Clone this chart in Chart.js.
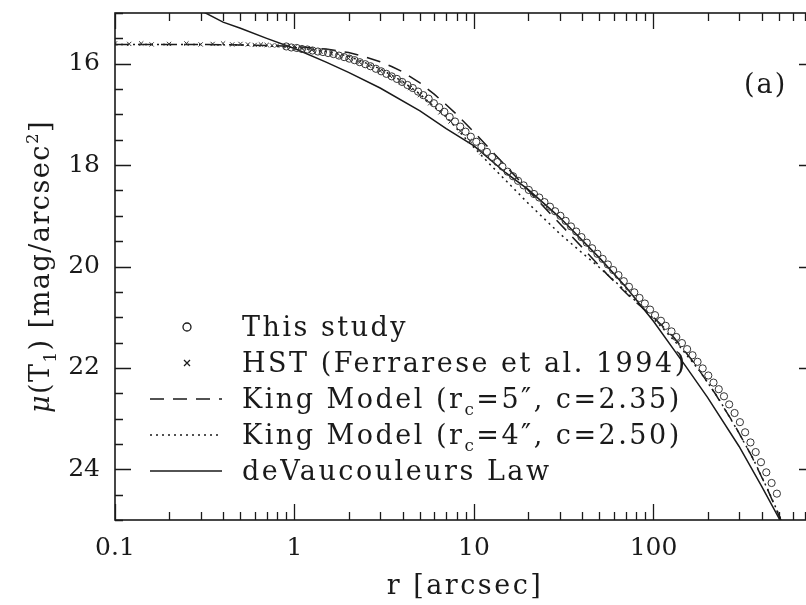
<!DOCTYPE html>
<html>
<head>
<meta charset="utf-8">
<script src="https://cdn.jsdelivr.net/npm/chart.js@4"></script>
<style>
  html, body { margin: 0; padding: 0; background: #fff; overflow: hidden; }
  #wrap { width: 822px; height: 605px; }
</style>
</head>
<body>
<div id="wrap"><canvas id="chart" width="822" height="605"></canvas></div>
<script>
// r in arcsec, mu in mag/arcsec^2
let studyR = [0.90, 0.96, 1.03, 1.10, 1.18, 1.26, 1.35, 1.44, 1.54, 1.65, 1.77, 1.89, 2.02, 2.16, 2.31, 2.48, 2.65, 2.84, 3.04, 3.25,
  3.48, 3.72, 3.98, 4.26, 4.56, 4.88, 5.22, 5.59, 5.98, 6.40, 6.84, 7.32, 7.84, 8.38, 8.97, 9.60, 10.3, 11.0, 11.8, 12.6,
  13.5, 14.4, 15.4, 16.5, 17.6, 18.9, 20.2, 21.6, 23.1, 24.7, 26.5, 28.3, 30.3, 32.4, 34.7, 37.1, 39.7, 42.5, 45.5, 48.7,
  52.1, 55.7, 59.6, 63.8, 68.3, 73.0, 78.2, 83.6, 89.5, 95.7, 102, 110, 117, 126, 134, 144, 154, 165, 176, 188,
  202, 216, 231, 247, 264, 283, 303, 324, 347, 371, 397, 425, 455, 487];
let studyMu = [15.66, 15.68, 15.69, 15.71, 15.72, 15.74, 15.76, 15.77, 15.79, 15.81, 15.84, 15.87, 15.90, 15.93, 15.97, 16.01, 16.05, 16.10, 16.15, 16.20,
  16.25, 16.30, 16.36, 16.42, 16.48, 16.55, 16.62, 16.69, 16.78, 16.86, 16.95, 17.05, 17.14, 17.24, 17.34, 17.44, 17.54, 17.64, 17.74, 17.84,
  17.94, 18.03, 18.13, 18.22, 18.31, 18.40, 18.49, 18.57, 18.64, 18.73, 18.82, 18.91, 19.00, 19.10, 19.21, 19.31, 19.42, 19.53, 19.64, 19.75,
  19.85, 19.96, 20.07, 20.17, 20.29, 20.40, 20.51, 20.62, 20.73, 20.85, 20.96, 21.07, 21.17, 21.28, 21.39, 21.51, 21.63, 21.75, 21.88, 22.01,
  22.15, 22.29, 22.42, 22.56, 22.72, 22.89, 23.07, 23.27, 23.47, 23.66, 23.86, 24.06, 24.27, 24.48];

let hstR = [0.1, 0.12, 0.14, 0.16, 0.2, 0.25, 0.3, 0.35, 0.4, 0.45, 0.5, 0.55, 0.6, 0.65, 0.7, 0.75, 0.8, 0.9, 1.0,
  1.1, 1.25, 1.4, 1.6, 1.8, 2.0, 2.3, 2.6, 3.0, 3.4, 3.9, 4.4, 5.0, 5.7, 6.5, 7.4, 8.4, 9.5, 11];
let hstMu = [15.60, 15.61, 15.60, 15.62, 15.61, 15.60, 15.62, 15.61, 15.60, 15.62, 15.61, 15.62, 15.63, 15.62, 15.63, 15.64, 15.64, 15.66, 15.68,
  15.70, 15.73, 15.76, 15.80, 15.85, 15.90, 15.97, 16.04, 16.14, 16.24, 16.36, 16.48, 16.62, 16.78, 16.96, 17.14, 17.33, 17.52, 17.75];

let king5R = [0.1, 0.3, 0.5, 0.7, 1, 1.5, 2, 2.5, 3, 3.5, 4, 5, 6, 7, 8, 10, 13, 17, 22, 30, 40, 55, 75, 100, 130, 170, 220, 280, 350, 430, 520];
let king5Mu = [15.62, 15.62, 15.63, 15.64, 15.66, 15.71, 15.78, 15.87, 15.96, 16.06, 16.16, 16.38, 16.60, 16.81, 17.00, 17.35, 17.78, 18.22, 18.65, 19.15, 19.62, 20.15, 20.62, 21.00, 21.40, 21.92, 22.50, 23.10, 23.72, 24.38, 25.05];

let king4R = [0.1, 0.3, 0.5, 0.7, 1, 1.5, 2, 3, 4, 5, 6, 7, 9, 12, 15, 20, 25, 30, 40, 50, 65, 85, 110, 140, 180, 230, 290, 360, 440, 530];
let king4Mu = [15.62, 15.62, 15.63, 15.65, 15.68, 15.76, 15.85, 16.10, 16.35, 16.60, 16.85, 17.05, 17.48, 17.95, 18.30, 18.75, 19.08, 19.35, 19.73, 20.02, 20.38, 20.78, 21.18, 21.58, 22.05, 22.60, 23.20, 23.80, 24.45, 25.10];

let devR = [0.3, 0.4, 0.5, 0.7, 1, 1.5, 2, 3, 5, 7, 10, 15, 20, 30, 50, 70, 100, 150, 200, 300, 400, 510];
let devMu = [14.95, 15.18, 15.30, 15.50, 15.70, 15.97, 16.17, 16.48, 16.93, 17.28, 17.62, 18.15, 18.48, 19.03, 19.83, 20.40, 21.08, 21.95, 22.58, 23.55, 24.33, 25.02];

let xTickLabels = [0.1, 1, 10, 100];
let yTickLabels = [16, 18, 20, 22, 24];
let xMinorSteps = [1, 2, 3, 4, 5, 6, 7, 8, 9];
let yMinorStep = 0.5;
let legendLabels = ["This study", "HST (Ferrarese et al. 1994)", "King Model (r_c=5\u2033, c=2.35)", "King Model (r_c=4\u2033, c=2.50)", "deVaucouleurs Law"];
let xTitle = "r [arcsec]";
let panelLabel = "(a)";

const ink = "#1a1a1a";
const serif = "'DejaVu Serif', serif";

function pts(rs, ms) {
  return rs.map((r, i) => ({ x: r, y: ms[i] }));
}

// frame with inward ticks on all four sides
const frameTicks = {
  id: "frameTicks",
  afterDatasetsDraw(chart) {
    const ctx = chart.ctx, a = chart.chartArea;
    const xs = chart.scales.x, ys = chart.scales.y;
    ctx.save();
    ctx.strokeStyle = ink;
    ctx.lineWidth = 1.6;
    ctx.strokeRect(a.left, a.top, a.right - a.left, a.bottom - a.top);
    ctx.lineWidth = 1.3;
    ctx.beginPath();
    for (let d = 0; d < xTickLabels.length + 1; d++) {
      let base = xTickLabels[0] * Math.pow(10, d);
      xMinorSteps.forEach((m) => {
        let v = m * base;
        if (v > xs.max) return;
        let px = Math.round(xs.getPixelForValue(v)) + 0.5;
        let len = m === 1 ? 16 : 8;
        ctx.moveTo(px, a.bottom); ctx.lineTo(px, a.bottom - len);
        ctx.moveTo(px, a.top); ctx.lineTo(px, a.top + len);
      });
    }
    for (let v = ys.min; v <= ys.max + 1e-9; v += yMinorStep) {
      let py = Math.round(ys.getPixelForValue(v)) + 0.5;
      let len = yTickLabels.includes(v) ? 16 : 8;
      ctx.moveTo(a.left, py); ctx.lineTo(a.left + len, py);
      ctx.moveTo(a.right, py); ctx.lineTo(a.right - len, py);
    }
    ctx.stroke();
    ctx.restore();
  },
};

// write text with _x subscripts and ^x superscripts, returns end x
function richText(ctx, text, x, y, size, italicFirst) {
  text.split(/([_^]\w)/).forEach((part, k) => {
    if (!part) return;
    let dy = 0, s = size, str = part;
    if (part[0] === "_" && part.length === 2) { s = size * 0.62; dy = 7; str = part[1]; }
    else if (part[0] === "^" && part.length === 2) { s = size * 0.62; dy = -11; str = part[1]; }
    ctx.font = s + "px " + serif;
    if (italicFirst && k === 0) {
      ctx.font = "italic " + s + "px " + serif;
      ctx.fillText(str[0], x, y + dy);
      x += ctx.measureText(str[0]).width;
      ctx.font = s + "px " + serif;
      str = str.slice(1);
    }
    ctx.fillText(str, x, y + dy);
    x += ctx.measureText(str).width;
  });
  return x;
}

function measureRich(ctx, text, size) {
  let w = 0;
  text.split(/([_^]\w)/).forEach((part) => {
    if (!part) return;
    let s = size, str = part;
    if ((part[0] === "_" || part[0] === "^") && part.length === 2) { s = size * 0.62; str = part[1]; }
    ctx.font = s + "px " + serif;
    w += ctx.measureText(str).width;
  });
  return w;
}

// legend inside the plot (lower left), axis titles and panel label
const annotations = {
  id: "annotations",
  afterDraw(chart) {
    const ctx = chart.ctx, a = chart.chartArea;
    const size = 27;
    ctx.save();
    ctx.fillStyle = ink;
    ctx.strokeStyle = ink;
    ctx.textBaseline = "alphabetic";
    ctx.letterSpacing = "2.5px";
    legendLabels.forEach((label, i) => {
      const base = 336 + 36 * i;
      const mid = base - 9;
      const ds = chart.data.datasets[i];
      ctx.lineWidth = 1.3;
      if (i === 0) {
        ctx.beginPath(); ctx.arc(187, mid, 4, 0, Math.PI * 2); ctx.stroke();
      } else if (i === 1) {
        ctx.beginPath();
        ctx.moveTo(184, mid - 3); ctx.lineTo(190, mid + 3);
        ctx.moveTo(190, mid - 3); ctx.lineTo(184, mid + 3);
        ctx.stroke();
      } else {
        ctx.setLineDash(ds.borderDash || []);
        ctx.lineWidth = ds.borderWidth;
        ctx.beginPath(); ctx.moveTo(150, mid); ctx.lineTo(222, mid); ctx.stroke();
        ctx.setLineDash([]);
      }
      richText(ctx, label, 242, base, size, false);
    });
    // x title
    let w = measureRich(ctx, xTitle, size);
    richText(ctx, xTitle, (a.left + a.right) / 2 - w / 2, 594, size, false);
    // y title, rotated
    const yTitle = chart.options.scales.y.title.text;
    ctx.save();
    ctx.translate(49, (a.top + a.bottom) / 2);
    ctx.rotate(-Math.PI / 2);
    ctx.letterSpacing = "1.5px";
    w = measureRich(ctx, yTitle, size);
    richText(ctx, yTitle, -w / 2, 0, size, true);
    ctx.restore();
    ctx.font = size + "px " + serif;
    ctx.letterSpacing = "2px";
    ctx.fillText(panelLabel, 744, 93);
    ctx.restore();
  },
};

new Chart(document.getElementById("chart"), {
  type: "scatter",
  data: {
    datasets: [
      { label: legendLabels[0], data: pts(studyR, studyMu), pointStyle: "circle", pointRadius: 3.6,
        borderColor: "#333", borderWidth: 1, backgroundColor: "rgba(0,0,0,0)" },
      { label: legendLabels[1], data: pts(hstR, hstMu), pointStyle: "crossRot", pointRadius: 3,
        borderColor: "#333", borderWidth: 1 },
      { label: legendLabels[2], data: pts(king5R, king5Mu), showLine: true, pointRadius: 0,
        borderColor: ink, borderWidth: 1.5, borderDash: [14, 9] },
      { label: legendLabels[3], data: pts(king4R, king4Mu), showLine: true, pointRadius: 0,
        borderColor: ink, borderWidth: 1.5, borderDash: [2, 4] },
      { label: legendLabels[4], data: pts(devR, devMu), showLine: true, pointRadius: 0,
        borderColor: ink, borderWidth: 1.5 },
    ],
  },
  options: {
    responsive: false,
    animation: false,
    devicePixelRatio: 1,
    layout: { padding: { top: 13, right: 7, left: 0, bottom: 0 } },
    plugins: { legend: { display: false }, tooltip: { enabled: false } },
    scales: {
      x: {
        type: "logarithmic",
        min: 0.1,
        max: 794,
        grid: { display: false, drawTicks: false },
        border: { display: false },
        afterBuildTicks: (s) => { s.ticks = xTickLabels.map((v) => ({ value: v })); },
        afterFit: (s) => { s.height = 85; s.paddingLeft = 0; s.paddingRight = 0; },
        ticks: { autoSkip: false, maxRotation: 0, padding: 13, color: ink,
          font: { family: serif, size: 25 }, callback: (v) => String(v) },
        title: { display: false, text: xTitle },
      },
      y: {
        type: "linear",
        reverse: true,
        min: 15,
        max: 25,
        grid: { display: false, drawTicks: false },
        border: { display: false },
        afterBuildTicks: (s) => { s.ticks = yTickLabels.map((v) => ({ value: v })); },
        afterFit: (s) => { s.width = 115; s.paddingTop = 0; s.paddingBottom = 0; },
        ticks: { padding: 15, color: ink, font: { family: serif, size: 25 } },
        title: { display: false, text: "\u03bc(T_1) [mag/arcsec^2]" },
      },
    },
  },
  plugins: [frameTicks, annotations],
});
</script>
</body>
</html>
